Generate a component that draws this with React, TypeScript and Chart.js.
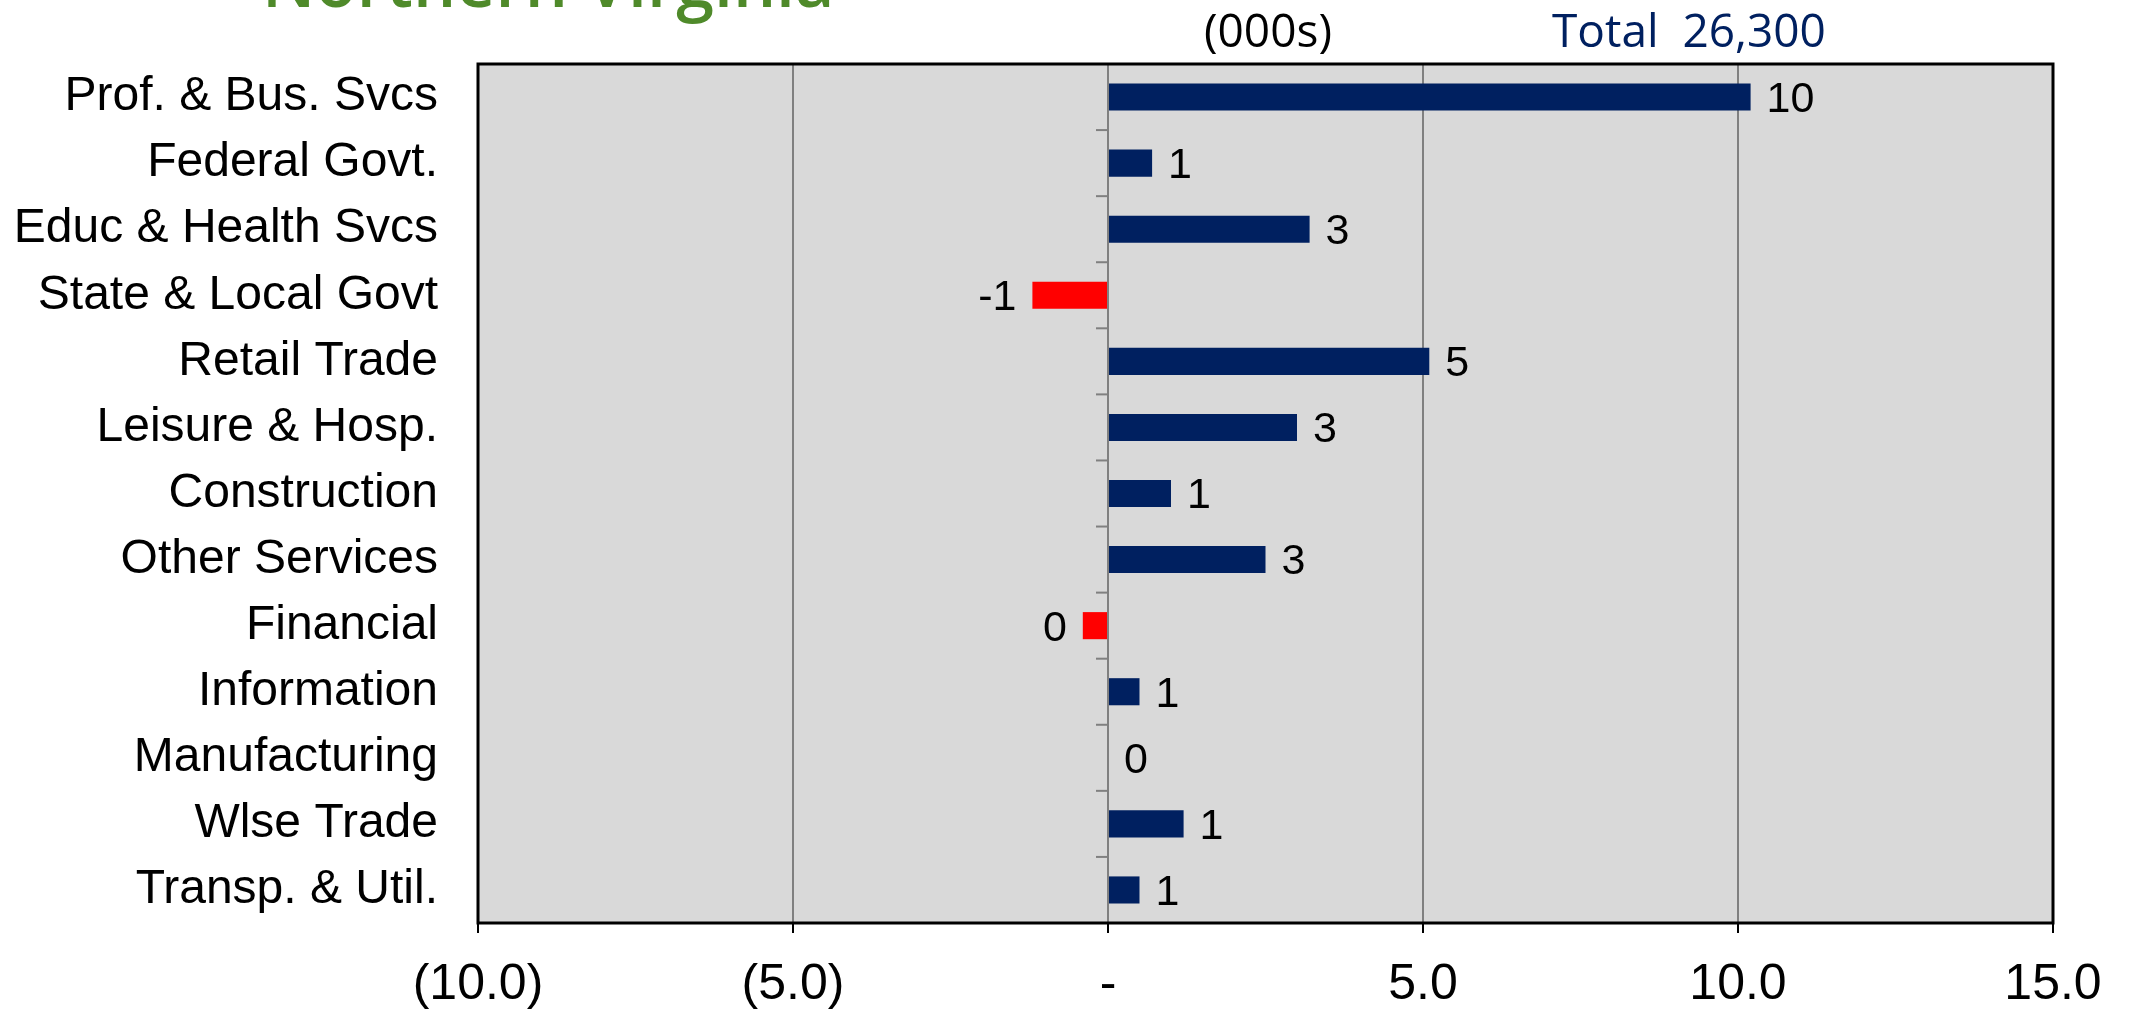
import React, { useEffect, useRef } from 'react';
import { Chart, registerables } from 'chart.js';

Chart.register(...registerables);

const categories = ['Prof. & Bus. Svcs', 'Federal Govt.', 'Educ & Health Svcs', 'State & Local Govt', 'Retail Trade', 'Leisure & Hosp.', 'Construction', 'Other Services', 'Financial', 'Information', 'Manufacturing', 'Wlse Trade', 'Transp. & Util.'];
const values = [10.2, 0.7, 3.2, -1.2, 5.1, 3.0, 1.0, 2.5, -0.4, 0.5, 0.0, 1.2, 0.5];
const tickLabels: Record<number, string> = { '-10': '(10.0)', '-5': '(5.0)', 0: '-', 5: '5.0', 10: '10.0', 15: '15.0' } as any;

const plotDeco = {
    id: 'plotDeco',
    beforeDraw(chart: any) {
        const { ctx, chartArea: a } = chart;
        ctx.save();
        ctx.fillStyle = '#d9d9d9';
        ctx.fillRect(a.left, a.top, a.right - a.left, a.bottom - a.top);
        ctx.restore();
    },
    afterDatasetsDraw(chart: any) {
        const { ctx, chartArea: a, scales } = chart;
        const x0 = scales.x.getPixelForValue(0);
        ctx.save();
        // small tick marks along the zero axis at category boundaries
        ctx.strokeStyle = '#808080';
        ctx.lineWidth = 2;
        const n = categories.length;
        const step = (a.bottom - a.top) / n;
        for (let i = 0; i <= n; i++) {
            const y = a.top + i * step;
            ctx.beginPath();
            ctx.moveTo(x0 - 12, y);
            ctx.lineTo(x0, y);
            ctx.stroke();
        }
        ctx.strokeStyle = '#000';
        ctx.lineWidth = 3;
        ctx.strokeRect(a.left, a.top, a.right - a.left, a.bottom - a.top);
        // value labels
        ctx.fillStyle = '#000';
        ctx.font = '43px "Liberation Sans", Arial, sans-serif';
        ctx.textBaseline = 'middle';
        const meta = chart.getDatasetMeta(0);
        meta.data.forEach((bar: any, i: number) => {
            const v = values[i];
            const txt = String(Math.round(v) === 0 ? 0 : Math.round(v));
            if (v < 0) {
                ctx.textAlign = 'right';
                ctx.fillText(txt, bar.x - 16, bar.y + 3);
            } else {
                ctx.textAlign = 'left';
                ctx.fillText(txt, Math.max(bar.x, x0) + 16, bar.y + 3);
            }
        });
        ctx.restore();
    }
};

export default function App() {
    const canvasRef = useRef<HTMLCanvasElement | null>(null);
    const chartRef = useRef<Chart | null>(null);

    useEffect(() => {
        if (!canvasRef.current) return;
        if (chartRef.current) chartRef.current.destroy();
        chartRef.current = new Chart(canvasRef.current, {
            type: 'bar',
            data: {
                labels: categories,
                datasets: [{
                    data: values,
                    backgroundColor: values.map(v => (v < 0 ? '#ff0000' : '#002060')),
                    barPercentage: 0.41,
                    categoryPercentage: 1
                }]
            },
            options: {
                animation: false,
                responsive: true,
                maintainAspectRatio: false,
                indexAxis: 'y',
                layout: { padding: { top: 64, right: 76, left: 0, bottom: 0 } },
                plugins: { legend: { display: false }, tooltip: { enabled: false } },
                scales: {
                    x: {
                        min: -10,
                        max: 15,
                        afterBuildTicks: (s: any) => { s.ticks = [-10, -5, 0, 5, 10, 15].map(v => ({ value: v })); },
                        afterFit: (s: any) => { s.height = 88; },
                        grid: { color: (c: any) => (c.tick && (c.tick.value === -10 || c.tick.value === 15) ? 'rgba(0,0,0,0)' : '#808080'), lineWidth: 2, drawTicks: true, tickLength: 10, tickColor: '#000' },
                        border: { display: false },
                        ticks: {
                            color: '#000',
                            padding: 22,
                            font: { family: '"Liberation Sans", Arial, sans-serif', size: 50 },
                            callback: (v: any) => tickLabels[v] ?? ''
                        }
                    },
                    y: {
                        afterFit: (s: any) => { s.width = 478; },
                        grid: { display: false },
                        border: { display: false },
                        ticks: {
                            color: '#000',
                            padding: 32,
                            font: { family: '"Liberation Sans", Arial, sans-serif', size: 48 }
                        }
                    }
                }
            },
            plugins: [plotDeco]
        });
        return () => {
            if (chartRef.current) chartRef.current.destroy();
        };
    }, []);

    return (
        <div style={{ position: 'fixed', left: 0, top: 0, width: 2129, height: 1011, background: '#fff', overflow: 'hidden' }}>
            <div style={{ position: 'absolute', left: 262, top: -66, fontFamily: '"Open Sans", sans-serif', fontSize: 68, fontWeight: 600, color: '#4f8a2a' }}>Northern Virginia</div>
            <div style={{ position: 'absolute', left: 1204, top: -2, fontFamily: '"Open Sans", sans-serif', fontSize: 46, color: '#000' }}>(000s)</div>
            <div style={{ position: 'absolute', left: 1552, top: -2, fontFamily: '"Open Sans", sans-serif', fontSize: 46, color: '#002060' }}>Total&nbsp; 26,300</div>
            <canvas ref={canvasRef}></canvas>
        </div>
    );
}
